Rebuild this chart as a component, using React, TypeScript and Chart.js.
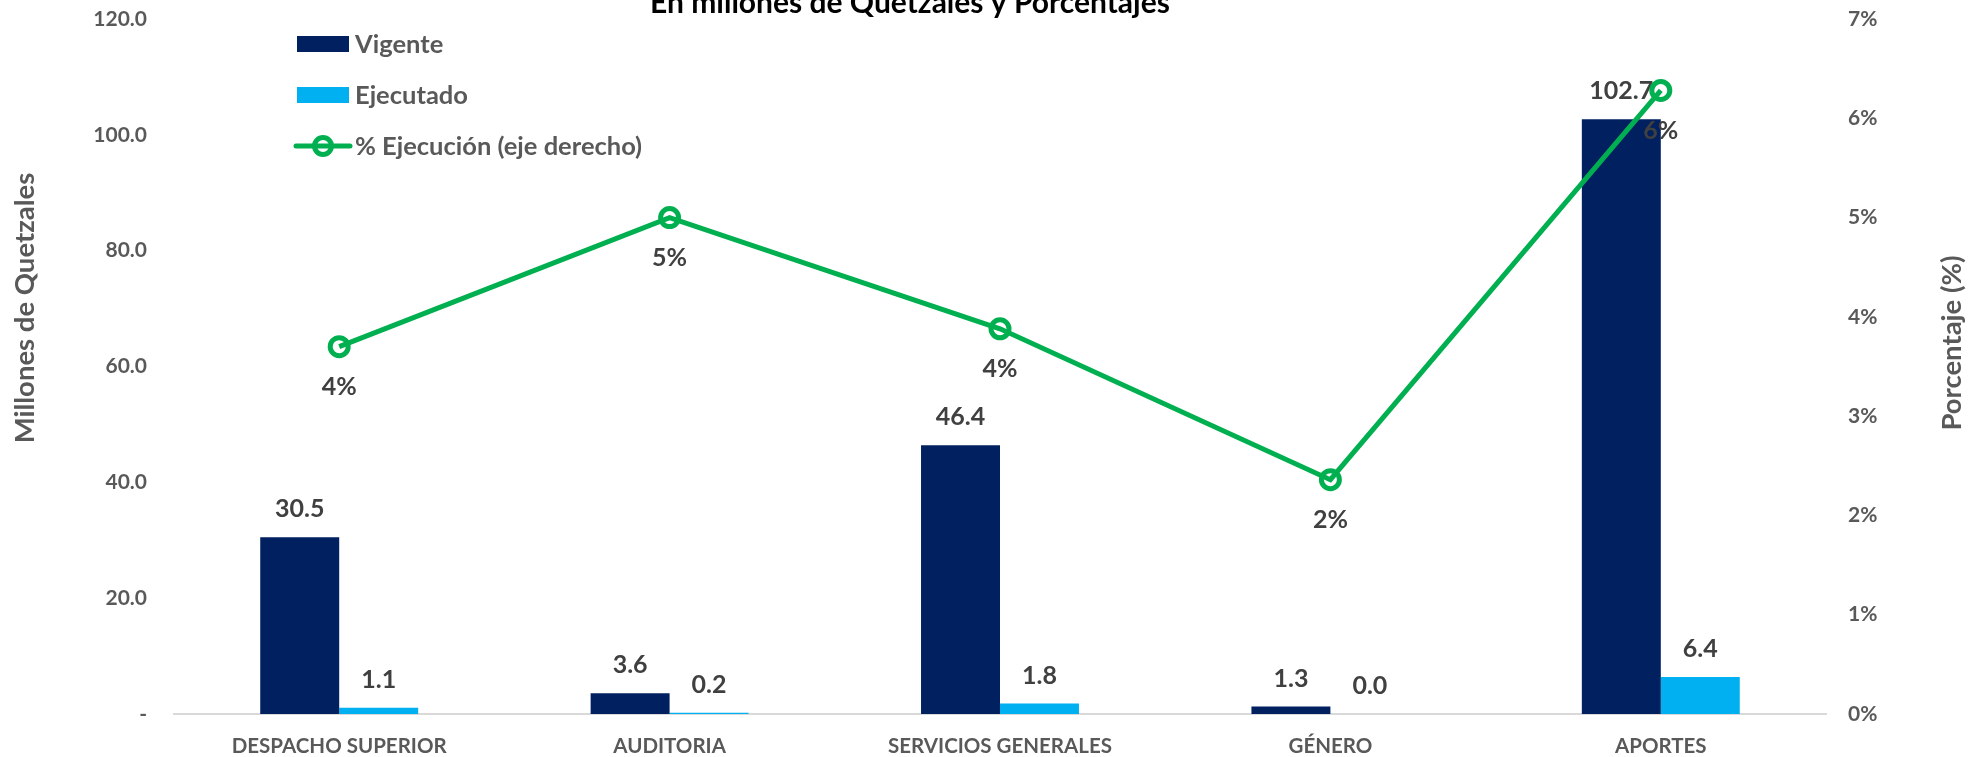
import React, { useEffect, useRef } from "react";
import { Chart, registerables } from "chart.js";

Chart.register(...registerables);

const FONT = "Lato";

const chartTitle = "En millones de Quetzales y Porcentajes";
const categories = ["DESPACHO SUPERIOR", "AUDITORIA", "SERVICIOS GENERALES", "GÉNERO", "APORTES"];
const vigente = [30.5, 3.6, 46.4, 1.3, 102.7];
const ejecutado = [1.1, 0.2, 1.8, 0.0, 6.4];
const pctEjecucion = [3.7, 5.0, 3.88, 2.36, 6.28];
const seriesNames = ["Vigente", "Ejecutado", "% Ejecución (eje derecho)"];
const leftAxisTitle = "Millones de Quetzales";
const rightAxisTitle = "Porcentaje (%)";
const leftMax = 120;
const leftStep = 20;
const rightMax = 7;
const rightStep = 1;

const NAVY = "#002060";
const CYAN = "#00B0F0";
const GREEN = "#00B050";
const GREY = "#595959";
const DARK = "#404040";

const decorPlugin = {
  id: "decor",
  afterDatasetDraw(chart: any, args: any) {
    const meta = args.meta;
    if (meta.type !== "bar") return;
    const ctx = chart.ctx;
    const ds = chart.data.datasets[args.index];
    ctx.save();
    ctx.font = `bold 25px ${FONT}`;
    ctx.fillStyle = DARK;
    ctx.textAlign = "center";
    ctx.textBaseline = "middle";
    meta.data.forEach((el: any, i: number) => {
      ctx.fillText((ds.data[i] as number).toFixed(1), el.x, el.y - 28);
    });
    ctx.restore();
  },
  afterDatasetsDraw(chart: any) {
    const ctx = chart.ctx;
    const meta = chart.getDatasetMeta(2);
    const ds = chart.data.datasets[2];
    ctx.save();
    ctx.font = `bold 25px ${FONT}`;
    ctx.fillStyle = DARK;
    ctx.textAlign = "center";
    ctx.textBaseline = "middle";
    meta.data.forEach((el: any, i: number) => {
      ctx.fillText(Math.round(ds.data[i] as number) + "%", el.x, el.y + 40);
    });
    ctx.restore();
  },
  afterDraw(chart: any) {
    const ctx = chart.ctx;
    ctx.save();
    // title (partly cut at the top)
    ctx.font = `bold 30px ${FONT}`;
    ctx.fillStyle = "#000000";
    ctx.textAlign = "center";
    ctx.textBaseline = "alphabetic";
    ctx.fillText(chartTitle, 910, 13);

    // axis titles
    ctx.font = `bold 27.5px ${FONT}`;
    ctx.fillStyle = GREY;
    ctx.textBaseline = "middle";
    ctx.save();
    ctx.translate(25, 308);
    ctx.rotate(-Math.PI / 2);
    ctx.fillText(leftAxisTitle, 0, 0);
    ctx.restore();
    ctx.save();
    ctx.translate(1952, 343);
    ctx.rotate(-Math.PI / 2);
    ctx.fillText(rightAxisTitle, 0, 0);
    ctx.restore();

    // legend
    const rows = [44, 95, 146];
    ctx.font = `bold 25.5px ${FONT}`;
    ctx.textAlign = "left";
    ctx.textBaseline = "middle";
    ctx.fillStyle = NAVY;
    ctx.fillRect(297, rows[0] - 8, 52, 16);
    ctx.fillStyle = CYAN;
    ctx.fillRect(297, rows[1] - 8, 52, 16);
    ctx.strokeStyle = GREEN;
    ctx.lineWidth = 5;
    ctx.lineCap = "round";
    ctx.beginPath();
    ctx.moveTo(296, rows[2]);
    ctx.lineTo(350, rows[2]);
    ctx.stroke();
    ctx.beginPath();
    ctx.arc(323, rows[2], 8.5, 0, Math.PI * 2);
    ctx.stroke();
    ctx.fillStyle = GREY;
    seriesNames.forEach((n, i) => ctx.fillText(n, 355, rows[i] + 1));
    ctx.restore();
  },
};

export default function App() {
  const canvasRef = useRef<HTMLCanvasElement | null>(null);

  useEffect(() => {
    if (!canvasRef.current) return;
    const chart = new Chart(canvasRef.current, {
      type: "bar",
      data: {
        labels: categories,
        datasets: [
          {
            type: "bar",
            label: seriesNames[0],
            data: vigente,
            backgroundColor: NAVY,
            yAxisID: "y",
            order: 1,
            categoryPercentage: 0.478,
            barPercentage: 1.0,
          },
          {
            type: "bar",
            label: seriesNames[1],
            data: ejecutado,
            backgroundColor: CYAN,
            yAxisID: "y",
            order: 1,
            categoryPercentage: 0.478,
            barPercentage: 1.0,
          },
          {
            type: "line",
            label: seriesNames[2],
            data: pctEjecucion,
            borderColor: GREEN,
            borderWidth: 5,
            pointRadius: 9,
            pointBorderWidth: 5,
            pointBorderColor: GREEN,
            pointBackgroundColor: "rgba(0,0,0,0)",
            tension: 0,
            yAxisID: "y1",
            order: 0,
          } as any,
        ],
      },
      options: {
        animation: false,
        responsive: false,
        maintainAspectRatio: false,
        layout: { padding: { top: 19, left: 0, right: 0, bottom: 0 } },
        plugins: {
          legend: { display: false },
          title: { display: false },
          tooltip: { enabled: false },
        },
        scales: {
          x: {
            type: "category",
            grid: { display: false, drawTicks: false },
            border: { display: true, color: "#D9D9D9", width: 2 },
            ticks: {
              color: GREY,
              font: { family: FONT, size: 20.5, weight: "bold" },
              padding: 20,
              maxRotation: 0,
              autoSkip: false,
            },
            afterFit: (s: any) => {
              s.height = 43;
              s.paddingLeft = 0;
              s.paddingRight = 0;
            },
          },
          y: {
            position: "left",
            min: 0,
            max: leftMax,
            grid: { display: false, drawTicks: false },
            border: { display: false },
            ticks: {
              stepSize: leftStep,
              padding: 27,
              color: GREY,
              font: { family: FONT, size: 21, weight: "bold" },
              callback: (v: any) => (Number(v) === 0 ? "-" : Number(v).toFixed(1)),
            },
            afterFit: (s: any) => {
              s.width = 174;
              s.paddingTop = 0;
              s.paddingBottom = 0;
            },
          },
          y1: {
            position: "right",
            min: 0,
            max: rightMax,
            grid: { display: false, drawTicks: false },
            border: { display: false },
            ticks: {
              stepSize: rightStep,
              padding: 22,
              color: GREY,
              font: { family: FONT, size: 21, weight: "bold" },
              callback: (v: any) => `${Number(v)}%`,
            },
            afterFit: (s: any) => {
              s.width = 143;
              s.paddingTop = 0;
              s.paddingBottom = 0;
            },
          },
        },
      } as any,
      plugins: [decorPlugin],
    });
    return () => chart.destroy();
  }, []);

  return (
    <div style={{ position: "fixed", left: 0, top: 0, width: 1969, height: 757, background: "#ffffff" }}>
      <canvas ref={canvasRef} width={1969} height={757} style={{ display: "block" }} />
    </div>
  );
}
